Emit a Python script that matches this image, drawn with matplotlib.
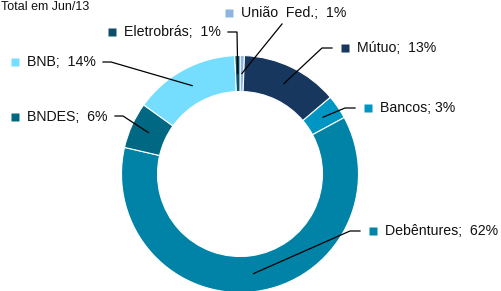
import matplotlib
matplotlib.use("Agg")
import matplotlib.pyplot as plt
import numpy as np

plt.rcParams['font.family'] = ['Liberation Sans', 'DejaVu Sans']

# data (share of debt, %), clockwise from the top
labels = ['União  Fed.', 'Mútuo', 'Bancos', 'Debêntures', 'BNDES', 'BNB', 'Eletrobrás']
values = [0.6, 13.2, 3.3, 61.5, 6.3, 14.4, 0.7]
seps = [';  ', ';  ', '; ', ';  ', ';  ', ';  ', ';  ']
colors = ['#8DB4E2', '#17375E', '#0096C3', '#0083A6', '#006882', '#75DEFF', '#0D4F66']

W, H = 502, 291
fig = plt.figure(figsize=(W / 100, H / 100), dpi=100)
ax = fig.add_axes([0, 0, 1, 1])

cx, cy, R = 240, H - 174, 118.5
ring = 36
wedges, _ = ax.pie(values, colors=colors, startangle=90, counterclock=False,
                   radius=R, center=(cx, cy),
                   wedgeprops=dict(width=ring, edgecolor='white', linewidth=0.8))

# label layout in pixels from top-left: marker x, y, leader start, leader elbow
layout = [
    (229, 13, (282, 24), (282, 24)),
    (345, 48, (332, 48), (322, 48)),
    (368, 108, (355, 108), (345, 108)),
    (373, 231, (360, 231), (350, 231)),
    (15, 117, (115, 116), (123, 116)),
    (15, 62, (103, 62), (111, 62)),
    (112, 32, (228, 32), (237, 32)),
]

rmid = R - ring / 2
for w, lab, v, sep, c, (mx, my, p0, p1) in zip(wedges, labels, values, seps, colors, layout):
    ang = np.deg2rad((w.theta1 + w.theta2) / 2)
    ex, ey = cx + rmid * np.cos(ang), cy + rmid * np.sin(ang)
    ax.plot([p0[0], p1[0], ex], [H - p0[1], H - p1[1], ey], color='black', lw=0.9)
    ax.plot(mx, H - my, marker='s', ms=5.3, color=c, mec='none')
    ax.text(mx + 12, H - my, f'{lab}{sep}{round(v)}%', fontsize=10.2,
            va='center', ha='left', color='#111111')

ax.text(1, H - 1, 'Total em Jun/13', fontsize=9, ha='left', va='top',
        color='#111111')

ax.set_xlim(0, W)
ax.set_ylim(0, H)
ax.set_aspect('auto')
ax.axis('off')

fig.savefig('out.png', dpi=100)
